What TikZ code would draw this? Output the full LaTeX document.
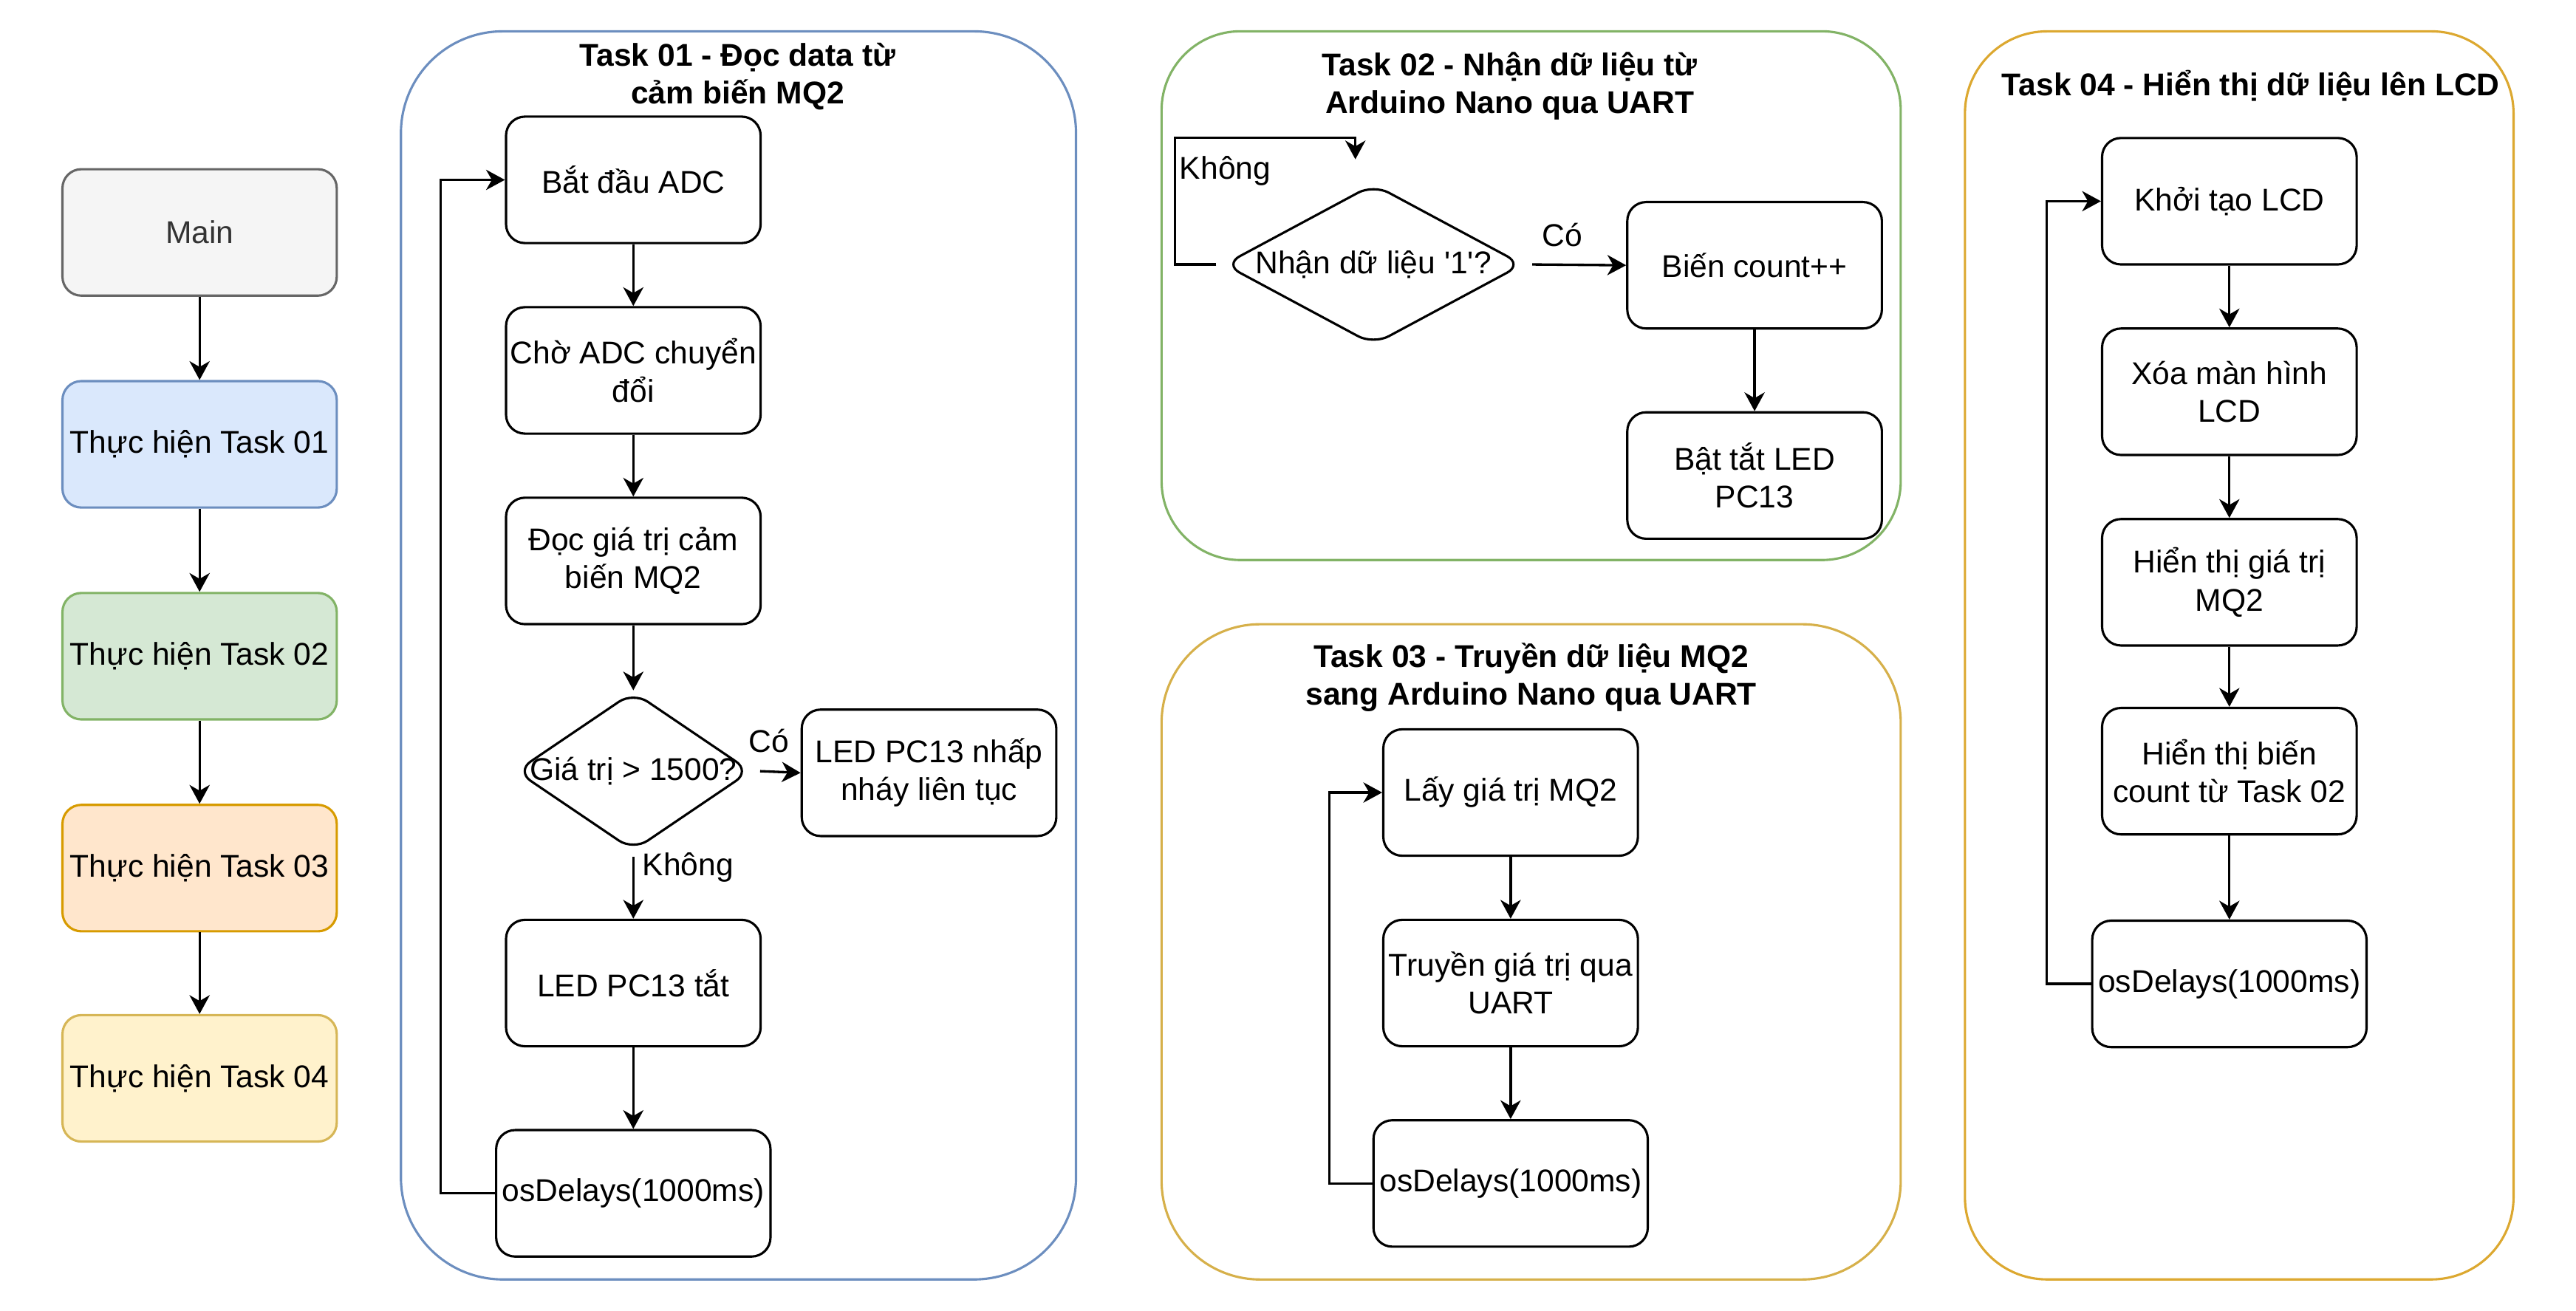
\documentclass[tikz,border=0pt]{standalone}
\usepackage{fontspec}
\setmainfont{Liberation Sans}
\usetikzlibrary{shapes.geometric,arrows.meta}
\definecolor{mainfill}{HTML}{F5F5F5}
\definecolor{maindraw}{HTML}{666666}
\definecolor{maintext}{HTML}{333333}
\definecolor{bluefill}{HTML}{DAE8FC}
\definecolor{bluedraw}{HTML}{6C8EBF}
\definecolor{greenfill}{HTML}{D5E8D4}
\definecolor{greendraw}{HTML}{82B366}
\definecolor{orangefill}{HTML}{FFE6CC}
\definecolor{orangedraw}{HTML}{D79B00}
\definecolor{yellowfill}{HTML}{FFF2CC}
\definecolor{yellowdraw}{HTML}{D6B656}
\definecolor{goldA}{HTML}{D6B04A}
\definecolor{goldB}{HTML}{DCA830}
\begin{document}
\begin{tikzpicture}[x=0.02cm,y=-0.02cm,
  font=\fontsize{10.9}{13.1}\selectfont,
  box/.style={draw=black, line width=0.8pt, rounded corners=0.23cm,
    minimum width=3.1cm, minimum height=1.54cm, inner sep=1pt,
    align=center, fill=white},
  wbox/.style={box, minimum width=3.34cm},
  colbox/.style 2 args={draw=#1, fill=#2, line width=0.8pt, rounded corners=0.23cm,
    minimum width=3.34cm, minimum height=1.54cm, inner sep=1pt, align=center},
  container/.style 2 args={draw=#1, line width=0.8pt, rounded corners=#2,
    inner sep=0pt},
  dia/.style={draw=black, line width=0.8pt, shape=diamond, rounded corners=6pt,
    inner sep=0pt, fill=white},
  ttl/.style={font=\fontsize{10.9}{13.1}\selectfont\bfseries, align=center},
  lbl/.style={inner sep=1pt},
  arr/.style={draw=black, line width=0.85pt, -{Stealth[length=6.5pt,width=7pt,inset=2pt]}},
]
\useasboundingbox (0,0) rectangle (1568,798);

% ---------- containers ----------
\node[container={bluedraw}{1.24cm}, minimum width=8.22cm, minimum height=15.2cm] (t1) at (449.5,399) {};
\node[container={greendraw}{0.96cm}, minimum width=9.0cm, minimum height=6.44cm] (t2) at (932,180) {};
\node[container={goldA}{1.2cm}, minimum width=9.0cm, minimum height=7.98cm] (t3) at (932,579.5) {};
\node[container={goldB}{1.0cm}, minimum width=6.68cm, minimum height=15.2cm] (t4) at (1363,399) {};

\node[ttl] (t1t) at (449,46.5) {Task 01 - Đọc data từ\\cảm biến MQ2};
\node[ttl] (t2t) at (919,52.5) {Task 02 - Nhận dữ liệu từ\\Arduino Nano qua UART};
\node[ttl] (t3t) at (932,412.5) {Task 03 - Truyền dữ liệu MQ2\\sang Arduino Nano qua UART};
\node[ttl] (t4t) at (1370,52) {Task 04 - Hiển thị dữ liệu lên LCD};

% ---------- left column ----------
\node[colbox={maindraw}{mainfill}, text=maintext] (m0) at (121.5,141.5) {Main};
\node[colbox={bluedraw}{bluefill}] (m1) at (121.5,270.5) {Thực hiện Task 01};
\node[colbox={greendraw}{greenfill}] (m2) at (121.5,399.5) {Thực hiện Task 02};
\node[colbox={orangedraw}{orangefill}] (m3) at (121.5,528.5) {Thực hiện Task 03};
\node[colbox={yellowdraw}{yellowfill}] (m4) at (121.5,656.5) {Thực hiện Task 04};
\draw[arr] (m0) -- (m1);
\draw[arr] (m1) -- (m2);
\draw[arr] (m2) -- (m3);
\draw[arr] (m3) -- (m4);

% ---------- Task 01 ----------
\node[box] (a1) at (385.5,109.5) {Bắt đầu ADC};
\node[box] (a2) at (385.5,225.5) {Chờ ADC chuyển\\đổi};
\node[box] (a3) at (385.5,341.5) {Đọc giá trị cảm\\biến MQ2};
\node[dia, minimum width=2.86cm, minimum height=1.94cm] (d1) at (385.5,469.5) {\makebox[0pt]{Giá trị > 1500?}};
\node[box] (a4) at (565.5,470.5) {LED PC13 nhấp\\nháy liên tục};
\node[box] (a5) at (385.5,598.5) {LED PC13 tắt};
\node[wbox] (a6) at (385.5,726.5) {osDelays(1000ms)};
\draw[arr] (a1) -- (a2);
\draw[arr] (a2) -- (a3);
\draw[arr] (a3) -- (d1);
\draw[arr] (d1.east) ++(5,0) -- (a4.west);
\draw[arr] (d1.south) ++(0,3) -- (a5.north);
\draw[arr] (a5) -- (a6);
\draw[arr] (a6.west) -- ++(-33,0) |- (a1.west);
\node[lbl] (l1) at (468,451) {Có};
\node[lbl, anchor=west] (l2) at (389,528) {Không};

% ---------- Task 02 ----------
\node[dia, minimum width=3.64cm, minimum height=1.96cm] (d2) at (836,161) {\makebox[0pt]{Nhận dữ liệu \textquotesingle 1\textquotesingle ?}};
\node[box] (b1) at (1068,161.5) {Biến count++};
\node[box] (b2) at (1068,289.5) {Bật tắt LED\\PC13};
\draw[arr] (d2.east) ++(5,0) -- (b1.west);
\draw[arr] (b1) -- (b2);
\coordinate (k2top) at (825,84);
\coordinate (k2) at (825,97);
\draw[arr] (d2.west) ++(-4,0) -- ++(-25,0) |- (k2top) -- (k2);
\node[lbl] (l3) at (951,143) {Có};
\node[lbl, anchor=west] (l4) at (716,104) {Không};

% ---------- Task 03 ----------
\node[box] (c1) at (919.5,482.5) {Lấy giá trị MQ2};
\node[box] (c2) at (919.5,598.5) {Truyền giá trị qua\\UART};
\node[wbox] (c3) at (919.5,720.5) {osDelays(1000ms)};
\draw[arr] (c1) -- (c2);
\draw[arr] (c2) -- (c3);
\draw[arr] (c3.west) -- ++(-26,0) |- (c1.west);

% ---------- Task 04 ----------
\node[box] (e1) at (1357,122.5) {Khởi tạo LCD};
\node[box] (e2) at (1357,238.5) {Xóa màn hình\\LCD};
\node[box] (e3) at (1357,354.5) {Hiển thị giá trị\\MQ2};
\node[box] (e4) at (1357,469.5) {Hiển thị biến\\count từ Task 02};
\node[wbox] (e5) at (1357,599) {osDelays(1000ms)};
\draw[arr] (e1) -- (e2);
\draw[arr] (e2) -- (e3);
\draw[arr] (e3) -- (e4);
\draw[arr] (e4) -- (e5);
\draw[arr] (e5.west) -- ++(-27,0) |- (e1.west);
\end{tikzpicture}
\end{document}
